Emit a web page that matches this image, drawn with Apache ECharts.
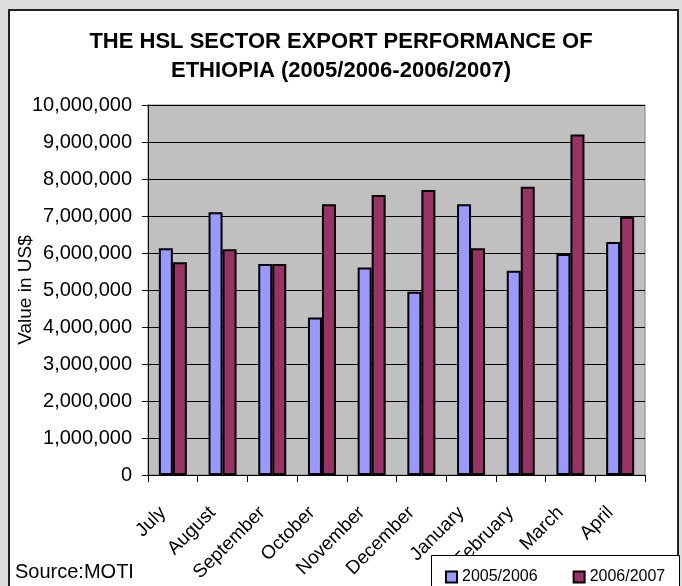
<!DOCTYPE html>
<html>
<head>
<meta charset="utf-8">
<script src="https://cdn.jsdelivr.net/npm/echarts@6/dist/echarts.min.js"></script>
<style>
  html, body { margin: 0; padding: 0; background: #dcdcdc; }
  #main { width: 682px; height: 586px; }
</style>
</head>
<body>
<div id="main"></div>
<script>
// HSL sector exports by month
var months = ['July', 'August', 'September', 'October', 'November', 'December', 'January', 'February', 'March', 'April'];
var exports0506 = [6130000, 7100000, 5700000, 4260000, 5610000, 4950000, 7320000, 5520000, 5970000, 6300000];
var exports0607 = [5750000, 6100000, 5700000, 7320000, 7570000, 7700000, 6130000, 7790000, 9200000, 6980000];
var seriesNames = ['2005/2006', '2006/2007'];

var chartDom = document.getElementById('main');
var myChart = echarts.init(chartDom);
var option;

var font = 'Arial, "Liberation Sans", sans-serif';

option = {
  backgroundColor: '#dcdcdc',
  textStyle: { fontFamily: font },
  title: {
    text: 'THE HSL SECTOR EXPORT PERFORMANCE OF\nETHIOPIA (2005/2006-2006/2007)',
    left: 'center',
    top: 22,
    textStyle: { fontSize: 22, fontWeight: 'bold', color: '#000', lineHeight: 29, fontFamily: font }
  },
  graphic: [
    { // white chart frame
      type: 'rect', z: -10, silent: true,
      shape: { x: 9, y: 10, width: 669, height: 600 },
      style: { fill: '#fff', stroke: '#222', lineWidth: 2 }
    },
    { // legend box
      type: 'rect', z: 5, silent: true,
      shape: { x: 431.5, y: 555.5, width: 248, height: 40 },
      style: { fill: '#fff', stroke: '#000', lineWidth: 1 }
    },
    {
      type: 'text', z: 5, left: 15, top: 562,
      style: { text: 'Source:MOTI', fontSize: 20, fill: '#000', fontFamily: font }
    }
  ],
  legend: {
    z: 10,
    left: 440,
    top: 564,
    itemWidth: 11,
    itemHeight: 11,
    itemGap: 35,
    icon: 'rect',
    itemStyle: { borderColor: '#000', borderWidth: 2 },
    textStyle: { fontSize: 16, color: '#000', fontFamily: font },
    data: seriesNames
  },
  grid: {
    left: 148,
    right: 37,
    top: 105,
    bottom: 111,
    outerBoundsMode: 'none',
    containLabel: false,
    show: true,
    backgroundColor: '#c0c0c0',
    borderColor: '#808080',
    borderWidth: 1
  },
  xAxis: {
    type: 'category',
    data: months,
    axisLine: { lineStyle: { color: '#000', width: 1 } },
    axisTick: { show: true, alignWithLabel: false, length: 7, lineStyle: { color: '#000' } },
    axisLabel: { rotate: 45, fontSize: 19, color: '#000', margin: 25, interval: 0, padding: [0, 14, 0, 0] }
  },
  yAxis: {
    type: 'value',
    min: 0,
    max: 10000000,
    interval: 1000000,
    name: 'Value in US$',
    nameLocation: 'middle',
    nameMoveOverlap: false,
    nameGap: 113,
    nameTextStyle: { fontSize: 19, color: '#000' },
    axisLine: { show: true, lineStyle: { color: '#000', width: 1 } },
    axisTick: { show: true, length: 6, lineStyle: { color: '#000' } },
    axisLabel: {
      fontSize: 20, color: '#000', margin: 16,
      formatter: function (v) { return String(v).replace(/\B(?=(\d{3})+(?!\d))/g, ','); }
    },
    splitLine: { show: true, lineStyle: { color: '#000', width: 1 } }
  },
  series: [
    {
      name: seriesNames[0],
      type: 'bar',
      data: exports0506,
      barWidth: 14,
      itemStyle: { color: '#9999ff', borderColor: '#000', borderWidth: 2 }
    },
    {
      name: seriesNames[1],
      type: 'bar',
      data: exports0607,
      barWidth: 14,
      barGap: '0%',
      itemStyle: { color: '#993366', borderColor: '#000', borderWidth: 2 }
    }
  ]
};

option && myChart.setOption(option);
</script>
</body>
</html>
